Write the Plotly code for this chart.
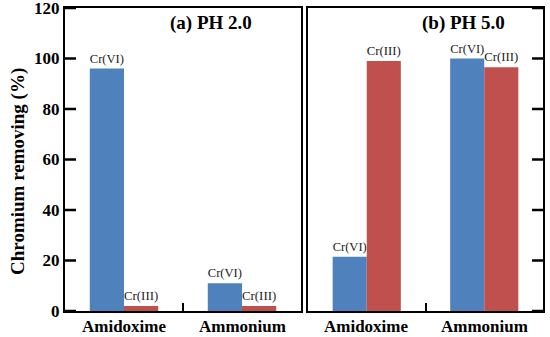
import plotly.graph_objects as go

categories = ["Amidoxime", "Ammonium"]
ph2_cr6 = [96, 11]
ph2_cr3 = [2, 2]
ph5_cr6 = [21.5, 100]
ph5_cr3 = [99, 96.5]
series_labels = ["Cr(VI)", "Cr(III)"]
panel_titles = ["(a) PH 2.0", "(b) PH 5.0"]
y_ticks = [0, 20, 40, 60, 80, 100, 120]

BLUE = "#4F81BD"
RED = "#C0504D"
FONT = "Liberation Serif"
W, H = 550, 337

xpos = list(range(len(categories)))
separators = [(a + b) / 2 for a, b in zip(xpos[:-1], xpos[1:])]

fig = go.Figure()

def add_bars(cr6, cr3, xa, ya):
    for vals, color, lab in [(cr6, BLUE, series_labels[0]), (cr3, RED, series_labels[1])]:
        fig.add_trace(go.Bar(
            x=xpos, y=vals, marker=dict(color=color, line=dict(width=0)),
            text=[lab] * len(vals), textposition="outside",
            textfont=dict(family=FONT, size=13, color="#222"),
            cliponaxis=False, xaxis=xa, yaxis=ya, showlegend=False,
        ))

add_bars(ph2_cr6, ph2_cr3, "x", "y")
add_bars(ph5_cr6, ph5_cr3, "x2", "y2")

px = lambda v: v / W
py = lambda v: 1 - v / H

xrange_ = [-0.5, len(categories) - 0.5]
xmain = dict(
    range=xrange_, tickvals=separators, ticktext=[""] * len(separators),
    ticks="inside", ticklen=8, tickwidth=2, tickcolor="black",
    showline=True, linecolor="black", linewidth=2, mirror=True,
    showgrid=False, zeroline=False,
)

fig.update_layout(
    template="none",
    width=W, height=H, margin=dict(l=0, r=0, t=0, b=0),
    paper_bgcolor="white", plot_bgcolor="white",
    barmode="group", bargap=0.42, bargroupgap=0,
    xaxis=dict(domain=[px(65), px(301)], anchor="y", **xmain),
    xaxis2=dict(domain=[px(308), px(543)], anchor="y2", **xmain),
    yaxis=dict(anchor="x", range=[0, 120], tickvals=y_ticks, ticks="",
               showline=True, linecolor="black", linewidth=2,
               mirror=True, showgrid=False, zeroline=False, domain=[py(311), py(8)],
               ticklabeloverflow="allow",
               tickfont=dict(family=FONT, size=17, color="black", weight="bold")),
    yaxis2=dict(anchor="x2", side="right", range=[0, 120], tickvals=y_ticks, ticks="",
                showticklabels=False,
                showline=True, linecolor="black", linewidth=2, mirror=True,
                showgrid=False, zeroline=False, domain=[py(311), py(8)]),
)

# inward y tick marks (left axis of panel a, right axis of panel b)
TICK_FRAC = 11 / 236
for t in y_ticks:
    fig.add_shape(type="line", xref="x domain", yref="y", x0=0, x1=TICK_FRAC, y0=t, y1=t,
                  line=dict(color="black", width=2.5), layer="above")
    fig.add_shape(type="line", xref="x2 domain", yref="y2", x0=1 - TICK_FRAC, x1=1, y0=t, y1=t,
                  line=dict(color="black", width=2.5), layer="above")

for xa in ["x", "x2"]:
    for xv, cat in zip(xpos, categories):
        fig.add_annotation(text=cat, x=xv, y=py(326), xref=xa, yref="paper", showarrow=False,
                           xanchor="center", yanchor="middle",
                           font=dict(family=FONT, size=17, color="black", weight="bold"))

fig.add_annotation(text="Chromium removing (%)", x=px(18), y=py(172), xref="paper", yref="paper",
                   textangle=-90, showarrow=False, xanchor="center", yanchor="middle",
                   font=dict(family=FONT, size=19, color="black", weight="bold"))
for t, cx in zip(panel_titles, [211, 463]):
    fig.add_annotation(text=t, x=px(cx), y=py(23), xref="paper", yref="paper", showarrow=False,
                       xanchor="center", yanchor="middle",
                       font=dict(family=FONT, size=19, color="black", weight="bold"))

fig.write_html("out.html", config={"displayModeBar": False},
               post_script="document.body.style.margin='0';")
